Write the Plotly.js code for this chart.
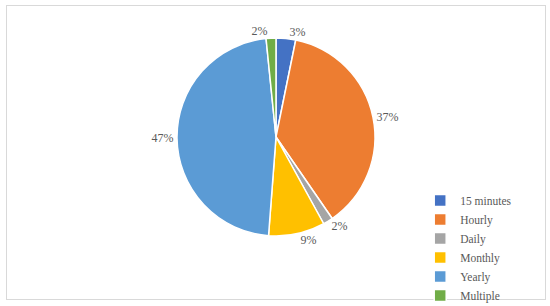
<!DOCTYPE html>
<html>
<head>
<meta charset="utf-8">
<script src="https://cdn.plot.ly/plotly-3.0.1.min.js"></script>
<style>
html,body{margin:0;padding:0;background:#fff;}
#frame{position:absolute;left:6px;top:5px;width:538px;height:293px;border:1px solid #d9d9d9;}
#chart{position:absolute;left:0;top:0;width:550px;height:306px;}
</style>
</head>
<body>
<div id="frame"></div>
<div id="chart"></div>
<script>
var categories = ["15 minutes", "Hourly", "Daily", "Monthly", "Yearly", "Multiple"];
var shares = [3.2, 37.2, 1.6, 9.2, 47.2, 1.6];
var colors = ["#4472C4", "#ED7D31", "#A5A5A5", "#FFC000", "#5B9BD5", "#70AD47"];

var serif = '"Liberation Serif", "DejaVu Serif", serif';

var trace = {
  type: "pie",
  labels: categories,
  values: shares,
  sort: false,
  direction: "clockwise",
  rotation: 0,
  marker: {colors: colors, line: {color: "#ffffff", width: 1.5}},
  textposition: "outside",
  texttemplate: "%{percent:.0%}",
  textfont: {family: serif, size: 12, color: "#595959"},
  hoverinfo: "label+percent",
  automargin: false,
  domain: {x: [0.3218, 0.6818], y: [0.2288, 0.8758]}
};

var layout = {
  width: 550,
  height: 306,
  margin: {l: 0, r: 0, t: 0, b: 0, autoexpand: false},
  paper_bgcolor: "rgba(0,0,0,0)",
  plot_bgcolor: "rgba(0,0,0,0)",
  showlegend: true,
  legend: {
    x: 0.764, y: 0.392, xanchor: "left", yanchor: "top",
    font: {family: serif, size: 11.5, color: "#595959"},
    itemwidth: 30,
    tracegroupgap: 0,
    bgcolor: "rgba(0,0,0,0)"
  }
};

Plotly.newPlot("chart", [trace], layout, {displayModeBar: false, staticPlot: true});
</script>
</body>
</html>
